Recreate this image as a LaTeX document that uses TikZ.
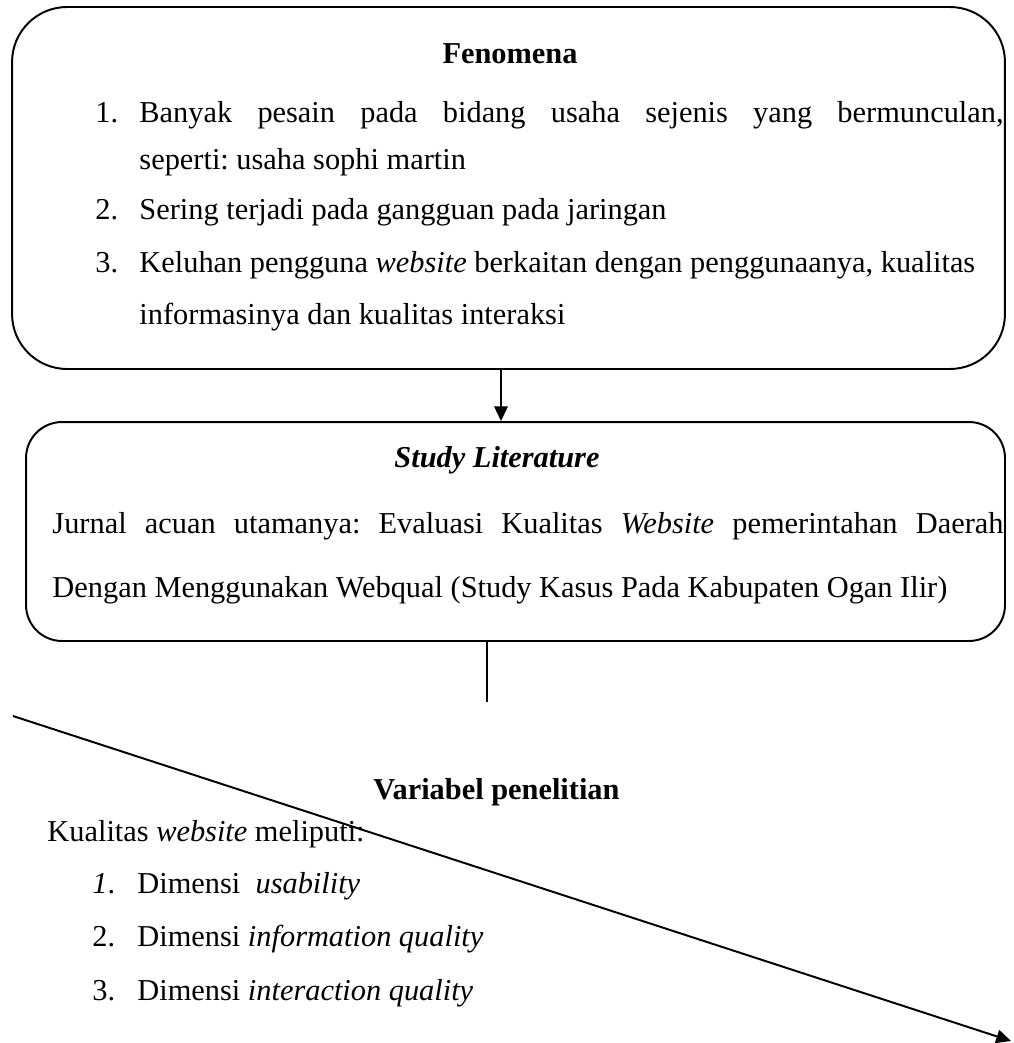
\documentclass[tikz,border=0pt]{standalone}
\usepackage{fontspec}
\setmainfont{Liberation Serif}
\usepackage{tikz}
\usetikzlibrary{arrows.meta}

\newcommand{\bodyfont}{\fontsize{12.4}{15}\selectfont\frenchspacing}

\tikzset{
	box/.style={draw, line width=0.8pt, inner sep=0pt},
	txt/.style={anchor=base west, inner sep=0pt, font=\bodyfont},
	head/.style={anchor=base, inner sep=0pt, font=\bodyfont\bfseries},
	arr/.style={-{Triangle[length=6pt, width=5.5pt]}, line width=0.8pt}
}

\begin{document}
\begin{tikzpicture}[x=0.4083pt, y=-0.4083pt, every node/.style={black}]
	\useasboundingbox (0,0) rectangle (1013,1043);

	% boxes
	\node[box, rounded corners=22.5pt, minimum width=405.4pt, minimum height=147.8pt] (fenomena) at (508.5,188) {};
	\node[box, rounded corners=14.7pt, minimum width=399.7pt, minimum height=89.4pt] (study) at (515.5,531.5) {};

	% Fenomena
	\node[head] (fenhead) at (510,63) {Fenomena};
	\node[txt] (n1) at (95,122) {1.};
	\node[txt] (f1a) at (139,122) {\makebox[352.8pt][s]{Banyak pesain pada bidang usaha sejenis yang bermunculan,}};
	\node[txt] (f1b) at (139,169) {seperti: usaha sophi martin};
	\node[txt] (n2) at (95,219) {2.};
	\node[txt] (f2) at (139,219) {Sering terjadi pada gangguan pada jaringan};
	\node[txt] (n3) at (95,272) {3.};
	\node[txt] (f3a) at (139,272) {Keluhan pengguna \textit{website} berkaitan dengan penggunaanya, kualitas};
	\node[txt] (f3b) at (139,324) {informasinya dan kualitas interaksi};

	% Study Literature
	\node[head, font=\bodyfont\bfseries\itshape] (studyhead) at (497,467) {Study Literature};
	\node[txt] (s1) at (52,533) {\makebox[388.3pt][s]{Jurnal acuan utamanya: Evaluasi Kualitas \textit{Website} pemerintahan Daerah}};
	\node[txt] (s2) at (52,597) {Dengan Menggunakan Webqual (Study Kasus Pada Kabupaten Ogan Ilir)};

	% Variabel penelitian
	\node[head] (varhead) at (496.5,799) {Variabel penelitian};
	\node[txt] (v0) at (47,841) {Kualitas \textit{website} meliputi:};
	\node[txt] (m1) at (92,893) {\textit{1}.};
	\node[txt] (v1) at (137,893) {Dimensi\ \ \textit{usability}};
	\node[txt] (m2) at (92,946) {2.};
	\node[txt] (v2) at (137,946) {Dimensi \textit{information quality}};
	\node[txt] (m3) at (92,1000) {3.};
	\node[txt] (v3) at (137,1000) {Dimensi \textit{interaction quality}};

	% connectors
	\coordinate (a) at (501,0);
	\coordinate (stem) at (487,702);
	\coordinate (d0) at (13,716);
	\coordinate (d1) at (1011,1041);

	\draw[arr] (fenomena.south -| a) -- (study.north -| a);
	\draw[line width=0.8pt] (study.south -| stem) -- (stem);
	\draw[arr] (d0) -- (d1);
\end{tikzpicture}
\end{document}
